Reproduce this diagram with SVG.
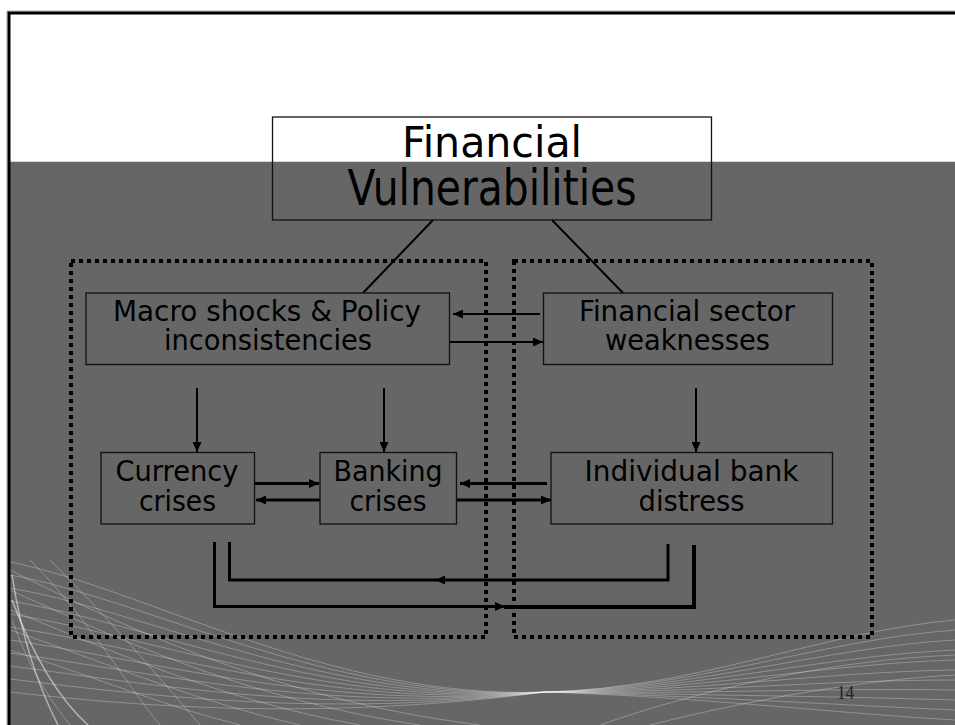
<svg xmlns="http://www.w3.org/2000/svg" width="955" height="725" viewBox="0 0 955 725">
<style>
.bg{fill:#ffffff}
.gray{fill:#666666}
.box{fill:none;stroke:#111;stroke-width:1.3}
.dot{fill:none;stroke:#000;stroke-width:4;stroke-dasharray:4 4}
.t{font-family:"DejaVu Sans","Liberation Sans",sans-serif;font-size:28px;fill:#000;text-anchor:middle}
.ln{fill:none;stroke:#000;stroke-width:2}
.ln3{fill:none;stroke:#000;stroke-width:3}
.wave{fill:none;stroke:#ffffff;stroke-width:1;opacity:0.28}
.wave2{fill:none;stroke:#ffffff;stroke-width:1.5;opacity:0.5}
</style>
<defs>
<marker id="ah" markerUnits="userSpaceOnUse" markerWidth="10" markerHeight="9" refX="10" refY="4.5" orient="auto">
<path d="M0,0 L10,4.5 L0,9 z" fill="#000"/>
</marker>
</defs>
<rect class="bg" x="0" y="0" width="955" height="725"/>
<rect class="gray" x="10" y="161" width="945" height="564"/>
<line x1="10" y1="161.5" x2="955" y2="161.5" stroke="#d8d8d8" stroke-width="1"/>
<g id="decor">
<path class="wave" d="M10,562 C150,590 330,700 545,692 C700,688 820,632 955,620"/>
<path class="wave" d="M10,575 C150,600 330,702 545,692 C700,688 820,640 955,630"/>
<path class="wave" d="M10,588 C150,612 330,704 545,692 C700,689 820,648 955,640"/>
<path class="wave" d="M10,601 C150,624 330,706 545,692 C700,690 820,656 955,650"/>
<path class="wave" d="M10,614 C150,636 330,708 545,692 C700,691 820,664 955,660"/>
<path class="wave" d="M10,627 C150,648 330,710 545,692 C700,692 820,672 955,670"/>
<path class="wave" d="M10,640 C150,660 330,712 545,692 C700,693 820,680 955,680"/>
<path class="wave" d="M10,653 C150,672 330,714 545,692 C700,694 820,688 955,690"/>
<path class="wave" d="M10,666 C150,684 330,716 545,692 C700,695 820,696 955,700"/>
<path class="wave" d="M10,679 C150,696 330,718 545,692 C700,696 820,704 955,710"/>
<path class="wave" d="M10,692 C150,708 330,720 545,692 C700,697 820,712 955,720"/>
<path class="wave" d="M10,590 C120,640 250,700 420,725"/>
<path class="wave" d="M10,610 C110,650 220,700 360,725"/>
<path class="wave" d="M10,630 C100,660 190,700 300,725"/>
<path class="wave" d="M10,650 C90,675 160,705 240,725"/>
<path class="wave" d="M10,570 C130,630 280,700 480,725"/>
<path class="wave" d="M30,560 C90,620 130,690 160,725"/>
<path class="wave" d="M50,560 C120,630 170,690 200,725"/>
<path class="wave" d="M600,725 C700,690 830,660 955,655"/>
<path class="wave" d="M650,725 C750,700 860,680 955,675"/>
<path class="wave2" d="M12,575 C22,640 40,690 58,725"/>
<path class="wave2" d="M12,600 C35,660 60,700 88,725"/>
<path class="wave" d="M12,620 C30,670 50,700 70,725"/>
</g>
<path d="M7,725 V11 H955" fill="none" stroke="#aaaaaa" stroke-width="1"/>
<path d="M9,725 V13 H955" fill="none" stroke="#000" stroke-width="3"/>
<g id="connectors">
<line class="ln" x1="433" y1="220" x2="363" y2="293"/>
<line class="ln" x1="552" y1="220" x2="623" y2="293"/>
<line class="ln" x1="540" y1="314" x2="453" y2="314" marker-end="url(#ah)"/>
<line class="ln" x1="449" y1="342" x2="543" y2="342" marker-end="url(#ah)"/>
<line class="ln" x1="197" y1="388" x2="197" y2="452" marker-end="url(#ah)"/>
<line class="ln" x1="384" y1="388" x2="384" y2="452" marker-end="url(#ah)"/>
<line class="ln" x1="696" y1="388" x2="696" y2="452" marker-end="url(#ah)"/>
<line class="ln3" x1="254" y1="483.5" x2="319" y2="483.5" marker-end="url(#ah)"/>
<line class="ln3" x1="320" y1="500" x2="256" y2="500" marker-end="url(#ah)"/>
<line class="ln3" x1="547" y1="483.5" x2="460" y2="483.5" marker-end="url(#ah)"/>
<line class="ln3" x1="457" y1="500" x2="551" y2="500" marker-end="url(#ah)"/>
<path class="ln3" d="M668,544 V580 H435" marker-end="url(#ah)"/>
<path class="ln3" d="M436,580 H229.5 V542"/>
<path class="ln3" d="M214.5,542 V606.5 H505" marker-end="url(#ah)"/>
<path class="ln3" d="M504,607 H694 V545" style="stroke-width:4"/>
</g>
<g id="group-left">
<rect class="dot" x="71" y="261" width="415" height="376"/>
</g>
<g id="group-right">
<rect class="dot" x="514" y="261" width="358" height="376"/>
</g>
<g id="node-title">
<rect class="box" x="272.5" y="117" width="439" height="103"/>
<text class="t" x="492" y="157" style="font-size:43px" textLength="180" lengthAdjust="spacingAndGlyphs">Financial</text>
<text class="t" x="492" y="205" style="font-size:50px" textLength="289" lengthAdjust="spacingAndGlyphs">Vulnerabilities</text>
</g>
<g id="node-macro">
<rect class="box" x="86" y="293" width="363.5" height="71.5"/>
<text class="t" x="267" y="321" textLength="308" lengthAdjust="spacingAndGlyphs">Macro shocks &amp; Policy</text>
<text class="t" x="268" y="350" textLength="208" lengthAdjust="spacingAndGlyphs">inconsistencies</text>
</g>
<g id="node-finsector">
<rect class="box" x="543.5" y="293" width="289" height="71.5"/>
<text class="t" x="687" y="321" textLength="216" lengthAdjust="spacingAndGlyphs">Financial sector</text>
<text class="t" x="687.5" y="350" textLength="165" lengthAdjust="spacingAndGlyphs">weaknesses</text>
</g>
<g id="node-currency">
<rect class="box" x="101" y="452.5" width="153.5" height="71.5"/>
<text class="t" x="177" y="481" textLength="123" lengthAdjust="spacingAndGlyphs">Currency</text>
<text class="t" x="177.5" y="511" textLength="77" lengthAdjust="spacingAndGlyphs">crises</text>
</g>
<g id="node-banking">
<rect class="box" x="320" y="452.5" width="136.5" height="71.5"/>
<text class="t" x="388" y="481" textLength="109" lengthAdjust="spacingAndGlyphs">Banking</text>
<text class="t" x="388" y="511" textLength="77" lengthAdjust="spacingAndGlyphs">crises</text>
</g>
<g id="node-individual">
<rect class="box" x="551" y="452.5" width="281.5" height="71.5"/>
<text class="t" x="691.5" y="481" textLength="214" lengthAdjust="spacingAndGlyphs">Individual bank</text>
<text class="t" x="691.5" y="511" textLength="106" lengthAdjust="spacingAndGlyphs">distress</text>
</g>
<text x="837" y="699" style="font-family:'Liberation Serif',serif;font-size:18px;fill:#222" textLength="17" lengthAdjust="spacingAndGlyphs">14</text>
</svg>
